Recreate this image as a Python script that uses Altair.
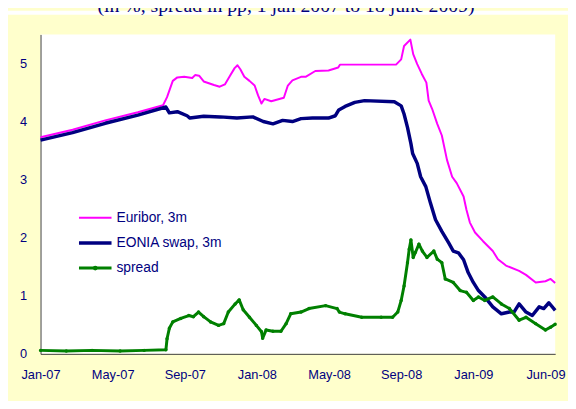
import altair as alt
import pandas as pd

# ---------------- data ----------------
series_names = ["Euribor, 3m", "EONIA swap, 3m", "spread"]

euribor_dates = [
    "2007-01-01", "2007-02-26", "2007-04-24", "2007-06-20", "2007-08-03", "2007-08-10",
    "2007-08-20", "2007-08-28", "2007-09-09", "2007-09-23", "2007-09-28", "2007-10-05",
    "2007-10-13", "2007-10-31", "2007-11-10", "2007-11-19", "2007-11-28", "2007-12-06",
    "2007-12-11", "2007-12-16", "2007-12-23", "2008-01-01", "2008-01-10", "2008-01-16",
    "2008-01-22", "2008-01-27", "2008-02-08", "2008-03-01", "2008-03-08", "2008-03-16",
    "2008-03-31", "2008-04-08", "2008-04-25", "2008-05-18", "2008-06-04", "2008-06-07",
    "2008-09-13", "2008-09-22", "2008-09-27", "2008-10-08", "2008-10-13", "2008-10-20",
    "2008-10-28", "2008-11-05", "2008-11-09", "2008-11-15", "2008-11-24", "2008-12-02",
    "2008-12-11", "2008-12-20", "2008-12-28", "2009-01-09", "2009-01-14", "2009-01-20",
    "2009-01-29", "2009-02-12", "2009-03-01", "2009-03-10", "2009-03-24", "2009-04-16",
    "2009-04-28", "2009-05-15", "2009-06-01", "2009-06-10", "2009-06-18",
]
euribor_values = [
    3.73, 3.86, 4.02, 4.16, 4.28, 4.42,
    4.70, 4.76, 4.77, 4.75, 4.80, 4.79,
    4.69, 4.63, 4.60, 4.64, 4.79, 4.92,
    4.97, 4.90, 4.77, 4.70, 4.62, 4.45,
    4.31, 4.39, 4.35, 4.41, 4.62, 4.71,
    4.77, 4.77, 4.87, 4.88, 4.93, 4.98,
    4.98, 5.07, 5.30, 5.41, 5.16, 4.99,
    4.82, 4.67, 4.36, 4.22, 3.96, 3.76,
    3.34, 3.05, 2.94, 2.71, 2.48, 2.26,
    2.09, 1.94, 1.77, 1.63, 1.52, 1.43,
    1.36, 1.23, 1.25, 1.29, 1.22,
]

eonia_dates = [
    "2007-01-01", "2007-02-26", "2007-04-24", "2007-06-20", "2007-08-08", "2007-08-14",
    "2007-08-28", "2007-09-14", "2007-09-19", "2007-10-13", "2007-11-11", "2007-12-10",
    "2008-01-07", "2008-01-25", "2008-02-11", "2008-02-28", "2008-03-16", "2008-03-31",
    "2008-04-20", "2008-05-18", "2008-05-30", "2008-06-05", "2008-06-16", "2008-07-03",
    "2008-07-20", "2008-09-10", "2008-09-22", "2008-09-27", "2008-10-03", "2008-10-09",
    "2008-10-12", "2008-10-20", "2008-10-26", "2008-11-04", "2008-11-12", "2008-11-21",
    "2008-12-02", "2008-12-14", "2008-12-22", "2008-12-31", "2009-01-09", "2009-01-17",
    "2009-01-26", "2009-02-04", "2009-02-15", "2009-03-01", "2009-03-16", "2009-03-30",
    "2009-04-07", "2009-04-16", "2009-04-28", "2009-05-09", "2009-05-21", "2009-05-29",
    "2009-06-07", "2009-06-18",
]
eonia_values = [
    3.68, 3.81, 3.97, 4.11, 4.25, 4.15,
    4.17, 4.10, 4.06, 4.09, 4.08, 4.06,
    4.08, 4.00, 3.96, 4.02, 4.00, 4.05,
    4.06, 4.06, 4.10, 4.20, 4.26, 4.33,
    4.36, 4.34, 4.27, 4.13, 3.90, 3.62,
    3.45, 3.28, 3.05, 2.88, 2.60, 2.31,
    2.11, 1.91, 1.77, 1.74, 1.62, 1.40,
    1.23, 1.09, 0.98, 0.81, 0.69, 0.72,
    0.72, 0.86, 0.72, 0.66, 0.81, 0.78,
    0.88, 0.75,
]

spread_dates = [
    "2007-01-01", "2007-02-15", "2007-04-01", "2007-05-20", "2007-07-01", "2007-08-08",
    "2007-08-10", "2007-08-14", "2007-08-20", "2007-09-03", "2007-09-17", "2007-09-25",
    "2007-10-04", "2007-10-13", "2007-10-25", "2007-11-08", "2007-11-17", "2007-11-25",
    "2007-12-07", "2007-12-14", "2007-12-21", "2008-01-01", "2008-01-13", "2008-01-22",
    "2008-01-24", "2008-01-30", "2008-02-11", "2008-02-25", "2008-03-05", "2008-03-13",
    "2008-03-31", "2008-04-14", "2008-05-13", "2008-06-02", "2008-06-06", "2008-06-16",
    "2008-07-15", "2008-08-18", "2008-09-07", "2008-09-16", "2008-09-22", "2008-09-27",
    "2008-10-03", "2008-10-06", "2008-10-09", "2008-10-13", "2008-10-17", "2008-10-23",
    "2008-10-29", "2008-11-06", "2008-11-18", "2008-11-24", "2008-12-02", "2008-12-08",
    "2008-12-22", "2009-01-03", "2009-01-14", "2009-01-26", "2009-02-04", "2009-02-15",
    "2009-03-01", "2009-03-16", "2009-03-30", "2009-04-16", "2009-04-28", "2009-05-15",
    "2009-06-01", "2009-06-10", "2009-06-18",
]
spread_values = [
    0.06, 0.05, 0.06, 0.05, 0.06, 0.07,
    0.26, 0.44, 0.55, 0.61, 0.66, 0.64,
    0.72, 0.64, 0.55, 0.49, 0.52, 0.72,
    0.86, 0.93, 0.76, 0.63, 0.49, 0.38,
    0.27, 0.41, 0.39, 0.39, 0.52, 0.69,
    0.72, 0.78, 0.83, 0.78, 0.72, 0.69,
    0.63, 0.63, 0.63, 0.72, 0.92, 1.17,
    1.57, 1.80, 1.96, 1.66, 1.75, 1.89,
    1.77, 1.66, 1.77, 1.63, 1.57, 1.29,
    1.23, 1.09, 1.06, 0.92, 0.98, 0.92,
    0.98, 0.86, 0.78, 0.58, 0.63, 0.52,
    0.41, 0.46, 0.51,
]

x_tick_dates = [(2007, 1, 1), (2007, 5, 7), (2007, 9, 10), (2008, 1, 14),
                (2008, 5, 19), (2008, 9, 22), (2009, 1, 26), (2009, 6, 1)]
y_ticks = [0, 1, 2, 3, 4, 5]
title_text = "(in %, spread in pp, 1 jan 2007 to 18 june 2009)"

# ---------------- styling ----------------
NAVY = "#000080"
COLORS = {"Euribor, 3m": "#FF00FF", "EONIA swap, 3m": "#000080", "spread": "#008000"}
WIDTHS = {"Euribor, 3m": 2, "EONIA swap, 3m": 3.5, "spread": 3}
W, H = 522, 324


def dt(y, m, d):
    return alt.DateTime(year=y, month=m, date=d, utc=True)


frames = {
    "Euribor, 3m": pd.DataFrame({"date": euribor_dates, "value": euribor_values}),
    "EONIA swap, 3m": pd.DataFrame({"date": eonia_dates, "value": eonia_values}),
    "spread": pd.DataFrame({"date": spread_dates, "value": spread_values}),
}

x_enc = alt.X(
    "date:T",
    scale=alt.Scale(type="utc", domain=[dt(2007, 1, 1), dt(2009, 6, 18)]),
    axis=alt.Axis(
        values=[dt(*d) for d in x_tick_dates],
        labelExpr="utcFormat(datum.value, '%b-%y')",
        ticks=False, grid=False, title=None,
        labelFlush=False, labelOverlap=False, labelBound=False,
        labelPadding=15, labelFontSize=13, labelColor=NAVY, labelFont="Liberation Sans",
        domainColor="#404040", domainWidth=1,
    ),
)
y_enc = alt.Y(
    "value:Q",
    scale=alt.Scale(domain=[0, 5.5], nice=False, zero=True),
    axis=alt.Axis(
        values=y_ticks, ticks=False, grid=False, title=None,
        labelPadding=14, labelFontSize=13, labelColor=NAVY, labelFont="Liberation Sans",
        domainColor="#404040", domainWidth=1,
    ),
)

layers = []
for name in series_names:
    layers.append(
        alt.Chart(frames[name]).mark_line(
            color=COLORS[name], strokeWidth=WIDTHS[name], strokeJoin="round", interpolate="linear"
        ).encode(x=x_enc, y=y_enc)
    )
    if name == "spread":
        layers.append(
            alt.Chart(frames[name]).mark_circle(color=COLORS[name], size=12, opacity=1).encode(
                x=x_enc, y=y_enc
            )
        )

# legend (inside the plot area, top-left of the lower half)
one = alt.Data(values=[{}])
for i, name in enumerate(series_names):
    ly = 186 + 25.5 * i
    layers.append(
        alt.Chart(one).mark_rule(color=COLORS[name], strokeWidth=WIDTHS[name]).encode(
            x=alt.value(39), x2=alt.value(72), y=alt.value(ly)
        )
    )
    layers.append(
        alt.Chart(one).mark_text(
            text=name, align="left", baseline="middle", fontSize=14,
            font="Liberation Sans", color=NAVY,
        ).encode(x=alt.value(77), y=alt.value(ly))
    )
    if name == "spread":
        layers.append(
            alt.Chart(one).mark_circle(color=COLORS[name], size=22, opacity=1).encode(
                x=alt.value(55.5), y=alt.value(ly)
            )
        )

# white strip with the (cut-off) subtitle above the yellow chart area
layers.append(
    alt.Chart(one).mark_rect(color="white").encode(
        x=alt.value(-33), x2=alt.value(W + 13), y=alt.value(-24), y2=alt.value(-20)
    )
)
layers.append(
    alt.Chart(one).mark_text(
        text=title_text, align="center", baseline="alphabetic", fontSize=20,
        font="Liberation Serif", color=NAVY,
    ).encode(x=alt.value(249), y=alt.value(-23))
)

chart = alt.layer(*layers).properties(
    width=W, height=H,
    padding={"left": 33, "top": 24, "right": 13, "bottom": 45},
    autosize=alt.AutoSizeParams(type="none"),
).configure(background="#FFFFCC").configure_view(fill="white", stroke=None)

chart.save("out.html", embed_options={"renderer": "svg", "actions": False})
